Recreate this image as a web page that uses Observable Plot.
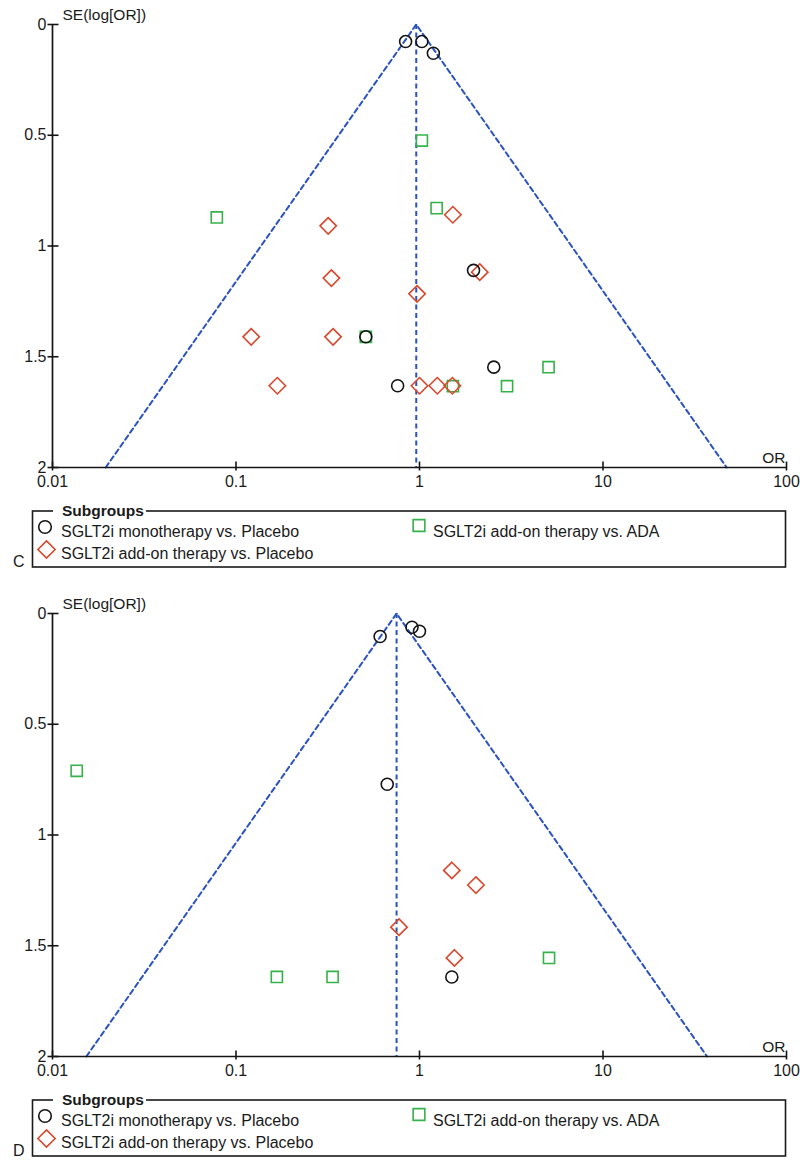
<!DOCTYPE html>
<html><head><meta charset="utf-8">
<script src="https://cdn.jsdelivr.net/npm/d3@7"></script>
<script src="https://cdn.jsdelivr.net/npm/@observablehq/plot@0.6"></script>
<style>
html,body{margin:0;padding:0;background:#fff;}
body{width:800px;font-family:"Liberation Sans",Arial,sans-serif;}
.block svg{display:block;}
</style></head><body>
<div id="panelC" class="block"></div>
<div id="panelD" class="block"></div>
<script>
// ---- shared labels ----
const xTicks = [0.01, 0.1, 1, 10, 100];
const xTickLabels = ["0.01", "0.1", "1", "10", "100"];
const yTicks = [0, 0.5, 1, 1.5, 2];
const yTickLabels = ["0", "0.5", "1", "1.5", "2"];
const yLabel = "SE(log[OR])";
const xLabel = "OR";
const legendTitle = "Subgroups";
const seriesNames = ["SGLT2i monotherapy vs. Placebo", "SGLT2i add-on therapy vs. Placebo", "SGLT2i add-on therapy vs. ADA"];
const panelLetters = ["C", "D"];

// ---- panel C data (OR, SE) ----
const monoC_or = [0.84, 1.03, 1.19, 1.97, 2.54, 0.76, 0.51];
const monoC_se = [0.077, 0.077, 0.13, 1.11, 1.547, 1.631, 1.41];
const addPlC_or = [0.318, 0.331, 0.97, 1.52, 2.13, 0.121, 0.338, 0.168, 1.0, 1.25, 1.51];
const addPlC_se = [0.909, 1.145, 1.216, 0.859, 1.118, 1.41, 1.41, 1.631, 1.631, 1.631, 1.631];
const addAdaC_or = [1.03, 0.0786, 1.24, 5.05, 3.0, 1.52, 0.51];
const addAdaC_se = [0.524, 0.871, 0.829, 1.547, 1.633, 1.633, 1.41];
const funnelC_or = [0.0195, 0.96, 47.2];
const funnelC_se = [2, 0, 2];
const summaryC = 0.96;

// ---- panel D data (OR, SE) ----
const monoD_or = [0.61, 0.91, 1.0, 0.667, 1.50];
const monoD_se = [0.104, 0.062, 0.080, 0.771, 1.641];
const addPlD_or = [1.50, 2.03, 0.773, 1.55];
const addPlD_se = [1.160, 1.226, 1.416, 1.555];
const addAdaD_or = [0.01355, 0.167, 0.336, 5.08];
const addAdaD_se = [0.710, 1.641, 1.641, 1.555];
const funnelD_or = [0.0153, 0.75, 36.9];
const funnelD_se = [2, 0, 2];
const summaryD = 0.75;

// ---- styling ----
const FONT = '"Liberation Sans", Arial, Helvetica, sans-serif';
const BLUE = "#2a52c0";
const BLACK = "#141414";
const TEXT = "#1a1a1a";
const RED = "#d9482c";
const GREEN = "#36b24a";
const symbolDefs = [
  {symbol: "circle", r: 6, color: BLACK, d3sym: d3.symbolCircle},
  {symbol: "diamond2", r: 7.4, color: RED, d3sym: d3.symbolDiamond2},
  {symbol: "square2", r: 7.1, color: GREEN, d3sym: d3.symbolSquare2}
];
// tick glyphs that cross the axis line
const xTickGlyph = {draw(ctx) { ctx.moveTo(0, -6); ctx.lineTo(0, 3); }};
const yTickGlyph = {draw(ctx) { ctx.moveTo(-5, 0); ctx.lineTo(6, 0); }};

const zip = (a, b) => a.map((v, i) => ({or: v, se: b[i]}));

function funnelPlot(series, fOr, fSe, summary) {
  const fdata = zip(fOr, fSe);
  const dots = [2, 1, 0].map(k => Plot.dot(series[k], {
    x: "or", y: "se", symbol: symbolDefs[k].symbol, r: symbolDefs[k].r,
    stroke: symbolDefs[k].color, strokeWidth: 1.6, fill: "none"
  }));
  return Plot.plot({
    width: 800, height: 492,
    marginTop: 24, marginBottom: 25, marginLeft: 52, marginRight: 14,
    style: {fontFamily: FONT, fontSize: "16px", color: TEXT, background: "white", overflow: "visible"},
    x: {type: "log", domain: [0.01, 100], axis: null},
    y: {domain: [0, 2], reverse: true, axis: null},
    marks: [
      Plot.line(fdata, {x: "or", y: "se", stroke: BLUE, strokeWidth: 2, strokeDasharray: "5,3.5"}),
      Plot.ruleX([summary], {y1: 0, y2: 2, stroke: BLUE, strokeWidth: 2, strokeDasharray: "5,3.5"}),
      Plot.ruleY([2], {stroke: BLACK, strokeWidth: 1.7}),
      Plot.ruleX([0.01], {stroke: BLACK, strokeWidth: 1.7}),
      Plot.dot(xTicks, {x: d => d, y: 2, symbol: xTickGlyph, r: 5, fill: "none", stroke: BLACK, strokeWidth: 1.6}),
      Plot.dot(yTicks, {x: 0.01, y: d => d, symbol: yTickGlyph, r: 5, fill: "none", stroke: BLACK, strokeWidth: 1.6}),
      Plot.axisX({ticks: xTicks, tickSize: 0, tickPadding: 8, label: null, fontSize: 16, tickFormat: d => xTickLabels[xTicks.indexOf(d)], fill: TEXT}),
      Plot.axisY({ticks: yTicks, tickSize: 0, tickPadding: 6, label: null, fontSize: 16, tickFormat: d => yTickLabels[yTicks.indexOf(d)], fill: TEXT}),
      Plot.text([yLabel], {frameAnchor: "top-left", dx: 10, dy: -5, lineAnchor: "bottom", textAnchor: "start", fontSize: 15.5, fill: TEXT}),
      Plot.text([xLabel], {frameAnchor: "bottom-right", dx: -1, dy: -5, lineAnchor: "bottom", textAnchor: "end", fontSize: 15.5, fill: TEXT}),
      ...dots
    ]
  });
}

function legendBlock(letter, h) {
  const svg = d3.create("svg").attr("width", 800).attr("height", h)
    .style("display", "block").attr("font-family", FONT).attr("fill", TEXT);
  svg.append("rect").attr("x", 32.5).attr("y", 19).attr("width", 753).attr("height", 56)
    .attr("fill", "none").attr("stroke", TEXT).attr("stroke-width", 1.6);
  svg.append("rect").attr("x", 53).attr("y", 10).attr("width", 93).attr("height", 16).attr("fill", "white");
  svg.append("text").attr("x", 62).attr("y", 24).attr("font-weight", "bold").attr("font-size", 15.5).text(legendTitle);
  const pos = [
    {sx: 45, sy: 35, tx: 61, ty: 44.5},
    {sx: 46.5, sy: 57.5, tx: 61, ty: 66.5},
    {sx: 419, sy: 33.5, tx: 433, ty: 44.5}
  ];
  symbolDefs.forEach((s, k) => {
    const size = Math.PI * s.r * s.r * 1.1;
    svg.append("path").attr("d", d3.symbol(s.d3sym, size)())
      .attr("transform", `translate(${pos[k].sx},${pos[k].sy})`)
      .attr("fill", "none").attr("stroke", s.color).attr("stroke-width", 1.6);
    svg.append("text").attr("x", pos[k].tx).attr("y", pos[k].ty).attr("font-size", 16).text(seriesNames[k]);
  });
  svg.append("text").attr("x", 13).attr("y", 74.5).attr("font-size", 16).text(letter);
  return svg.node();
}

const seriesC = [zip(monoC_or, monoC_se), zip(addPlC_or, addPlC_se), zip(addAdaC_or, addAdaC_se)];
const seriesD = [zip(monoD_or, monoD_se), zip(addPlD_or, addPlD_se), zip(addAdaD_or, addAdaD_se)];

const pc = document.getElementById("panelC");
pc.append(funnelPlot(seriesC, funnelC_or, funnelC_se, summaryC));
pc.append(legendBlock(panelLetters[0], 97));
const pd = document.getElementById("panelD");
pd.append(funnelPlot(seriesD, funnelD_or, funnelD_se, summaryD));
pd.append(legendBlock(panelLetters[1], 80));
</script>
</body></html>
